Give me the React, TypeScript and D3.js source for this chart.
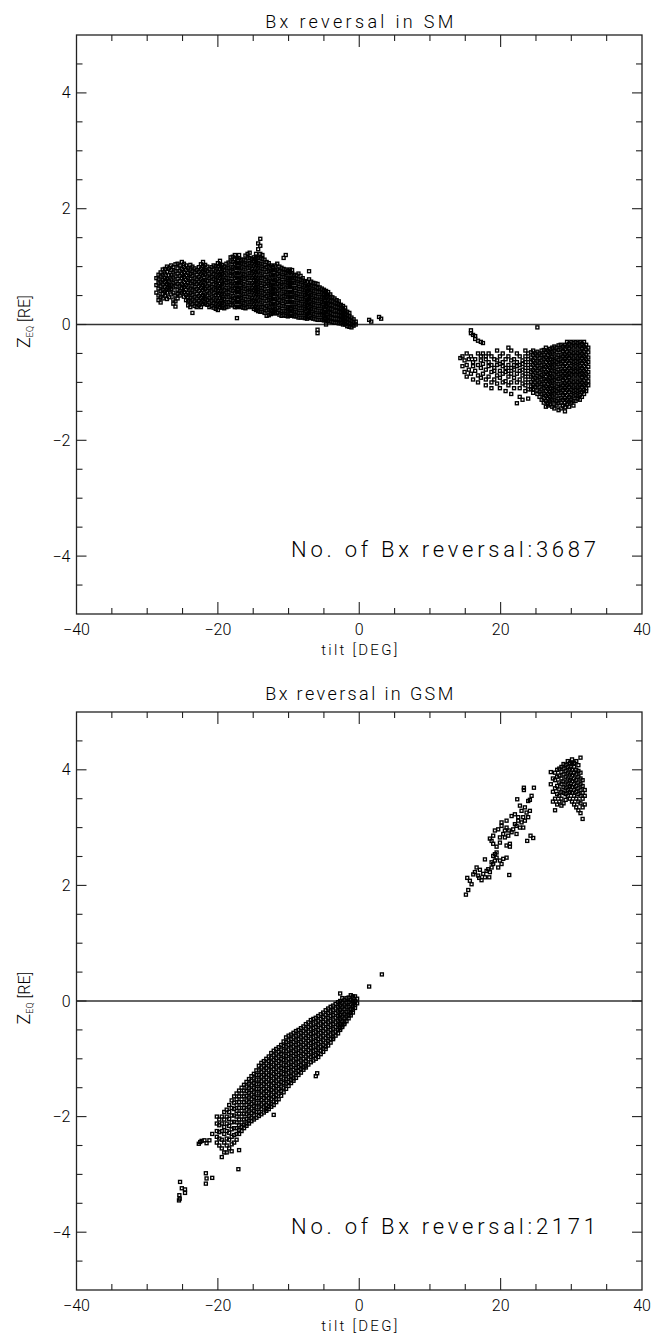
import React from 'react';
import * as d3 from 'd3';

// ---------- axes / labels ----------
const xTickValues = [-40, -20, 0, 20, 40];
const xTickLabels = ['\u221240', '\u221220', '0', '20', '40'];
const yTickValues = [-4, -2, 0, 2, 4];
const yTickLabels = ['\u22124', '\u22122', '0', '2', '4'];
const xDomain: [number, number] = [-40, 40];
const yDomain: [number, number] = [-5, 5];

// ---------- SM panel data: [tilt, z values at that tilt] ----------
const smCols: [number, number[]][] = [
  [-28.7, [0.55, 0.68, 0.8]],
  [-28.4, [0.42, 0.5, 0.62, 0.71, 0.78, 0.86]],
  [-28.1, [0.38, 0.47, 0.58, 0.66, 0.74, 0.83, 0.9]],
  [-27.8, [0.45, 0.53, 0.6, 0.69, 0.77, 0.86, 0.95]],
  [-27.5, [0.5, 0.57, 0.65, 0.73, 0.8, 0.88, 0.96]],
  [-27.2, [0.44, 0.55, 0.62, 0.7, 0.79, 0.91, 1.0]],
  [-26.9, [0.47, 0.6, 0.68, 0.76, 0.85, 0.97]],
  [-26.6, [0.52, 0.61, 0.69, 0.78, 0.86, 0.94, 1.02]],
  [-26.3, [0.36, 0.43, 0.55, 0.64, 0.72, 0.81, 0.9, 0.99]],
  [-26.0, [0.31, 0.4, 0.5, 0.66, 0.74, 0.83, 0.92, 1.04]],
  [-25.7, [0.45, 0.53, 0.6, 0.7, 0.79, 0.88, 0.97, 1.05]],
  [-25.4, [0.5, 0.58, 0.67, 0.75, 0.84, 0.93, 1.02]],
  [-25.1, [0.55, 0.63, 0.7, 0.8, 0.88, 0.96, 1.08]],
  [-24.8, [0.48, 0.56, 0.65, 0.73, 0.82, 0.9, 0.99, 1.05]],
  [-24.5, [0.42, 0.51, 0.6, 0.68, 0.77, 0.85, 0.94, 1.02]],
  [-24.2, [0.33, 0.4, 0.47, 0.55, 0.64, 0.72, 0.8, 0.89, 0.97]],
  [-23.9, [0.3, 0.38, 0.46, 0.54, 0.62, 0.71, 0.79, 0.87, 0.95, 1.03]],
  [-23.6, [0.2, 0.35, 0.43, 0.51, 0.59, 0.67, 0.75, 0.84, 0.92, 1.0]],
  [-23.3, [0.32, 0.4, 0.48, 0.57, 0.65, 0.73, 0.81, 0.9, 0.97]],
  [-23.0, [0.3, 0.37, 0.45, 0.53, 0.61, 0.7, 0.78, 0.86, 0.94]],
  [-22.7, [0.33, 0.41, 0.49, 0.58, 0.66, 0.74, 0.82, 0.91, 0.99]],
  [-22.4, [0.3, 0.38, 0.46, 0.54, 0.63, 0.71, 0.79, 0.88, 0.96, 1.04]],
  [-22.1, [0.35, 0.43, 0.51, 0.6, 0.68, 0.76, 0.85, 0.93, 1.01, 1.08]],
  [-21.8, [0.36, 0.44, 0.52, 0.61, 0.69, 0.77, 0.86, 0.94, 1.03]],
  [-21.5, [0.34, 0.42, 0.5, 0.58, 0.66, 0.75, 0.83, 0.92, 1.0]],
  [-21.2, [0.3, 0.38, 0.46, 0.55, 0.63, 0.71, 0.8, 0.88, 0.96]],
  [-20.9, [0.32, 0.4, 0.48, 0.57, 0.65, 0.74, 0.82, 0.9, 0.99]],
  [-20.6, [0.29, 0.37, 0.45, 0.54, 0.62, 0.7, 0.79, 0.87, 0.95, 1.02]],
  [-20.3, [0.27, 0.35, 0.43, 0.51, 0.6, 0.68, 0.77, 0.85, 0.93, 1.01]],
  [-20.0, [0.25, 0.33, 0.41, 0.5, 0.58, 0.66, 0.75, 0.83, 0.91, 1.0, 1.06]],
  [-19.7, [0.3, 0.38, 0.46, 0.55, 0.63, 0.71, 0.8, 0.88, 0.96, 1.04, 1.1]],
  [-19.4, [0.29, 0.37, 0.45, 0.53, 0.62, 0.7, 0.78, 0.87, 0.95, 1.03]],
  [-19.1, [0.28, 0.36, 0.44, 0.52, 0.6, 0.69, 0.77, 0.85, 0.94, 1.0]],
  [-18.8, [0.3, 0.38, 0.47, 0.55, 0.63, 0.72, 0.8, 0.88, 0.97, 1.05]],
  [-18.5, [0.31, 0.39, 0.48, 0.56, 0.64, 0.73, 0.81, 0.9, 0.98, 1.07]],
  [-18.2, [0.34, 0.42, 0.5, 0.59, 0.67, 0.75, 0.84, 0.92, 1.0, 1.09, 1.16]],
  [-17.9, [0.33, 0.41, 0.49, 0.58, 0.66, 0.74, 0.83, 0.91, 0.99, 1.08, 1.17]],
  [-17.6, [0.3, 0.38, 0.46, 0.55, 0.63, 0.71, 0.8, 0.88, 0.97, 1.05, 1.13, 1.2]],
  [-17.3, [0.11, 0.3, 0.39, 0.47, 0.56, 0.64, 0.72, 0.81, 0.89, 0.98, 1.06, 1.15]],
  [-17.0, [0.31, 0.39, 0.48, 0.56, 0.64, 0.73, 0.81, 0.9, 0.98, 1.06, 1.14, 1.2]],
  [-16.7, [0.3, 0.38, 0.46, 0.55, 0.63, 0.72, 0.8, 0.88, 0.97, 1.05, 1.12]],
  [-16.4, [0.29, 0.37, 0.45, 0.53, 0.62, 0.7, 0.79, 0.87, 0.95, 1.04, 1.12]],
  [-16.1, [0.28, 0.36, 0.44, 0.53, 0.61, 0.69, 0.78, 0.86, 0.95, 1.03, 1.11, 1.19]],
  [-15.8, [0.3, 0.38, 0.47, 0.55, 0.63, 0.72, 0.8, 0.88, 0.97, 1.05, 1.14, 1.22]],
  [-15.5, [0.31, 0.39, 0.47, 0.56, 0.64, 0.72, 0.81, 0.89, 0.98, 1.06, 1.15, 1.24]],
  [-15.2, [0.3, 0.38, 0.46, 0.55, 0.63, 0.71, 0.8, 0.88, 0.96, 1.05, 1.13]],
  [-14.9, [0.27, 0.35, 0.43, 0.52, 0.6, 0.68, 0.77, 0.85, 0.93, 1.02, 1.1, 1.16]],
  [-14.6, [0.25, 0.33, 0.41, 0.5, 0.58, 0.66, 0.75, 0.83, 0.91, 1.0, 1.08, 1.17, 1.22]],
  [-14.3, [0.23, 0.31, 0.4, 0.48, 0.56, 0.65, 0.73, 0.81, 0.9, 0.98, 1.06, 1.15, 1.3, 1.4]],
  [-14.0, [0.22, 0.3, 0.38, 0.47, 0.55, 0.63, 0.72, 0.8, 0.88, 0.97, 1.05, 1.14, 1.22, 1.36, 1.48]],
  [-13.7, [0.22, 0.3, 0.38, 0.46, 0.55, 0.63, 0.71, 0.8, 0.88, 0.96, 1.05, 1.13, 1.2]],
  [-13.4, [0.2, 0.28, 0.36, 0.45, 0.53, 0.61, 0.7, 0.78, 0.86, 0.95, 1.03, 1.12]],
  [-13.1, [0.15, 0.24, 0.32, 0.41, 0.49, 0.57, 0.66, 0.74, 0.82, 0.91, 0.99, 1.08]],
  [-12.8, [0.16, 0.25, 0.33, 0.42, 0.5, 0.58, 0.67, 0.75, 0.83, 0.92, 1.0, 1.06]],
  [-12.5, [0.18, 0.26, 0.35, 0.43, 0.51, 0.6, 0.68, 0.76, 0.85, 0.93, 1.02]],
  [-12.2, [0.2, 0.28, 0.36, 0.44, 0.53, 0.61, 0.69, 0.78, 0.86, 0.94, 1.0]],
  [-11.9, [0.19, 0.27, 0.35, 0.44, 0.52, 0.6, 0.69, 0.77, 0.85, 0.94, 1.02]],
  [-11.6, [0.2, 0.28, 0.37, 0.45, 0.53, 0.62, 0.7, 0.78, 0.87, 0.95, 1.05]],
  [-11.3, [0.17, 0.25, 0.34, 0.42, 0.5, 0.59, 0.67, 0.75, 0.84, 0.92, 1.0]],
  [-11.0, [0.15, 0.23, 0.32, 0.4, 0.48, 0.57, 0.65, 0.73, 0.82, 0.9, 0.98]],
  [-10.7, [0.16, 0.24, 0.32, 0.41, 0.49, 0.57, 0.66, 0.74, 0.82, 0.9, 0.96, 1.15]],
  [-10.4, [0.15, 0.23, 0.31, 0.39, 0.48, 0.56, 0.64, 0.73, 0.81, 0.89, 0.95, 1.2]],
  [-10.1, [0.14, 0.22, 0.3, 0.39, 0.47, 0.55, 0.64, 0.72, 0.8, 0.88, 0.93]],
  [-9.8, [0.15, 0.23, 0.31, 0.4, 0.48, 0.56, 0.65, 0.73, 0.81, 0.9, 0.95]],
  [-9.5, [0.15, 0.23, 0.31, 0.39, 0.48, 0.56, 0.64, 0.72, 0.8, 0.88, 0.94]],
  [-9.2, [0.14, 0.22, 0.3, 0.38, 0.47, 0.55, 0.63, 0.72, 0.8, 0.86]],
  [-8.9, [0.14, 0.22, 0.3, 0.38, 0.46, 0.54, 0.63, 0.71, 0.79, 0.85]],
  [-8.6, [0.12, 0.2, 0.28, 0.37, 0.45, 0.53, 0.61, 0.7, 0.78, 0.88]],
  [-8.3, [0.12, 0.2, 0.28, 0.36, 0.44, 0.52, 0.61, 0.69, 0.77, 0.84]],
  [-8.0, [0.12, 0.2, 0.28, 0.36, 0.44, 0.52, 0.6, 0.68, 0.76, 0.8]],
  [-7.7, [0.11, 0.19, 0.27, 0.35, 0.43, 0.51, 0.59, 0.67, 0.75]],
  [-7.4, [0.1, 0.18, 0.26, 0.34, 0.42, 0.5, 0.58, 0.66, 0.74]],
  [-7.1, [0.12, 0.2, 0.28, 0.36, 0.44, 0.52, 0.6, 0.68, 0.78, 0.92]],
  [-6.8, [0.11, 0.19, 0.27, 0.35, 0.43, 0.51, 0.59, 0.67, 0.74]],
  [-6.5, [0.1, 0.18, 0.26, 0.34, 0.42, 0.5, 0.58, 0.66, 0.72]],
  [-6.2, [0.09, 0.17, 0.25, 0.33, 0.41, 0.49, 0.57, 0.65, 0.71]],
  [-5.9, [-0.15, -0.09, 0.08, 0.16, 0.24, 0.32, 0.4, 0.48, 0.56, 0.63, 0.7]],
  [-5.6, [0.08, 0.16, 0.24, 0.32, 0.4, 0.48, 0.56, 0.64]],
  [-5.3, [0.08, 0.16, 0.23, 0.31, 0.39, 0.47, 0.55, 0.62]],
  [-5.0, [0.07, 0.15, 0.22, 0.3, 0.38, 0.46, 0.53, 0.6]],
  [-4.7, [0.0, 0.07, 0.14, 0.22, 0.3, 0.37, 0.45, 0.52, 0.58]],
  [-4.4, [0.06, 0.13, 0.21, 0.28, 0.36, 0.43, 0.5, 0.56]],
  [-4.1, [0.05, 0.12, 0.2, 0.27, 0.34, 0.41, 0.48, 0.52]],
  [-3.8, [0.04, 0.11, 0.18, 0.26, 0.33, 0.4, 0.47]],
  [-3.5, [0.03, 0.1, 0.17, 0.24, 0.31, 0.38, 0.45]],
  [-3.2, [0.03, 0.1, 0.17, 0.24, 0.3, 0.37, 0.42]],
  [-2.9, [0.02, 0.09, 0.16, 0.22, 0.29, 0.36, 0.4]],
  [-2.6, [0.02, 0.08, 0.15, 0.21, 0.28, 0.34]],
  [-2.3, [0.0, 0.07, 0.13, 0.2, 0.26, 0.32]],
  [-2.0, [0.0, 0.06, 0.12, 0.18, 0.24, 0.29]],
  [-1.7, [-0.03, 0.04, 0.1, 0.16, 0.22]],
  [-1.4, [-0.04, 0.02, 0.08, 0.14, 0.2]],
  [-1.1, [-0.05, 0.0, 0.06, 0.12]],
  [-0.8, [-0.02, 0.04, 0.09]],
  [-0.5, [0.0, 0.05]],
  [1.4, [0.08]],
  [1.7, [0.05]],
  [2.8, [0.13]],
  [3.1, [0.1]],
  // positive-tilt group
  [14.3, [-0.58]],
  [14.6, [-0.55, -0.72]],
  [14.9, [-0.62, -0.82]],
  [15.2, [-0.5, -0.7, -0.9]],
  [15.5, [-0.6, -0.78]],
  [15.8, [-0.1, -0.15, -0.55, -0.85]],
  [16.1, [-0.18, -0.65, -0.72, -0.95]],
  [16.4, [-0.2, -0.25, -0.6, -0.8]],
  [16.8, [-0.28, -0.5, -0.7, -0.88, -1.0]],
  [17.2, [-0.3, -0.55, -0.62, -0.75, -0.92]],
  [17.5, [-0.32, -0.5, -0.68, -0.85]],
  [17.9, [-0.55, -0.6, -0.78, -0.95, -1.05]],
  [18.3, [-0.5, -0.65, -0.72, -0.9]],
  [18.7, [-0.55, -0.7, -0.82, -1.0, -1.1]],
  [19.1, [-0.6, -0.75, -0.8, -0.95]],
  [19.5, [-0.45, -0.62, -0.7, -0.88, -1.02]],
  [19.9, [-0.55, -0.68, -0.8, -0.92, -1.1]],
  [20.3, [-0.5, -0.65, -0.72, -0.85, -1.0]],
  [20.7, [-0.6, -0.75, -0.82, -0.98, -1.15]],
  [21.1, [-0.4, -0.55, -0.7, -0.8, -0.9, -1.05]],
  [21.5, [-0.45, -0.62, -0.75, -0.85, -1.0, -1.2]],
  [21.9, [-0.6, -0.7, -0.78, -0.92, -1.1]],
  [22.3, [-0.5, -0.65, -0.72, -0.85, -1.0, -1.36]],
  [22.7, [-0.55, -0.7, -0.8, -0.95, -1.1, -1.25]],
  [23.1, [-0.62, -0.68, -0.78, -0.88, -1.02, -1.3]],
  [23.5, [-0.45, -0.55, -0.65, -0.75, -0.85, -0.95, -1.05, -1.15]],
  [23.9, [-0.5, -0.6, -0.7, -0.8, -0.9, -1.0, -1.12, -1.28]],
  [24.3, [-0.48, -0.57, -0.65, -0.74, -0.82, -0.9, -0.99, -1.07, -1.12]],
  [24.6, [-0.45, -0.53, -0.62, -0.7, -0.79, -0.87, -0.95, -1.04, -1.12, -1.18]],
  [24.9, [-0.5, -0.58, -0.67, -0.75, -0.83, -0.92, -1.0, -1.08]],
  [25.2, [-0.05, -0.47, -0.55, -0.64, -0.72, -0.8, -0.89, -0.97, -1.05, -1.14, -1.2]],
  [25.5, [-0.5, -0.58, -0.66, -0.75, -0.83, -0.91, -1.0, -1.08, -1.16, -1.25]],
  [25.8, [-0.45, -0.53, -0.62, -0.7, -0.78, -0.87, -0.95, -1.03, -1.12, -1.2, -1.3]],
  [26.1, [-0.44, -0.52, -0.6, -0.69, -0.77, -0.85, -0.94, -1.02, -1.1, -1.19, -1.27, -1.35]],
  [26.4, [-0.4, -0.48, -0.57, -0.65, -0.73, -0.82, -0.9, -0.98, -1.07, -1.15, -1.23, -1.32, -1.42]],
  [26.7, [-0.45, -0.53, -0.61, -0.7, -0.78, -0.86, -0.95, -1.03, -1.11, -1.2, -1.28, -1.36, -1.4]],
  [27.0, [-0.42, -0.5, -0.59, -0.67, -0.75, -0.84, -0.92, -1.0, -1.09, -1.17, -1.25, -1.33, -1.38]],
  [27.3, [-0.4, -0.48, -0.56, -0.65, -0.73, -0.81, -0.9, -0.98, -1.06, -1.15, -1.23, -1.31, -1.42]],
  [27.6, [-0.38, -0.46, -0.55, -0.63, -0.71, -0.8, -0.88, -0.96, -1.05, -1.13, -1.21, -1.3, -1.38, -1.45]],
  [27.9, [-0.4, -0.48, -0.57, -0.65, -0.73, -0.82, -0.9, -0.98, -1.07, -1.15, -1.23, -1.32, -1.4]],
  [28.2, [-0.36, -0.44, -0.53, -0.61, -0.69, -0.78, -0.86, -0.94, -1.03, -1.11, -1.19, -1.28, -1.36, -1.48]],
  [28.5, [-0.35, -0.43, -0.52, -0.6, -0.68, -0.77, -0.85, -0.93, -1.02, -1.1, -1.18, -1.27, -1.35, -1.45]],
  [28.8, [-0.38, -0.46, -0.55, -0.63, -0.71, -0.8, -0.88, -0.96, -1.05, -1.13, -1.21, -1.3, -1.4]],
  [29.1, [-0.35, -0.43, -0.52, -0.6, -0.68, -0.77, -0.85, -0.93, -1.02, -1.1, -1.18, -1.27, -1.35, -1.43, -1.5]],
  [29.4, [-0.3, -0.38, -0.47, -0.55, -0.63, -0.72, -0.8, -0.88, -0.97, -1.05, -1.13, -1.22, -1.3, -1.38]],
  [29.7, [-0.33, -0.41, -0.5, -0.58, -0.66, -0.75, -0.83, -0.91, -1.0, -1.08, -1.16, -1.25, -1.33, -1.42]],
  [30.0, [-0.3, -0.38, -0.47, -0.55, -0.63, -0.72, -0.8, -0.88, -0.97, -1.05, -1.13, -1.22, -1.3, -1.35]],
  [30.3, [-0.32, -0.4, -0.49, -0.57, -0.65, -0.74, -0.82, -0.9, -0.99, -1.07, -1.15, -1.24, -1.32, -1.4]],
  [30.6, [-0.3, -0.38, -0.47, -0.55, -0.63, -0.72, -0.8, -0.88, -0.97, -1.05, -1.13, -1.22, -1.32]],
  [30.9, [-0.32, -0.4, -0.49, -0.57, -0.65, -0.74, -0.82, -0.9, -0.99, -1.07, -1.15, -1.24, -1.28]],
  [31.2, [-0.3, -0.38, -0.47, -0.55, -0.63, -0.72, -0.8, -0.88, -0.97, -1.05, -1.13, -1.22, -1.3]],
  [31.5, [-0.33, -0.41, -0.5, -0.58, -0.66, -0.75, -0.83, -0.91, -1.0, -1.08, -1.16, -1.25]],
  [31.8, [-0.3, -0.38, -0.47, -0.55, -0.63, -0.72, -0.8, -0.88, -0.97, -1.05, -1.13, -1.2]],
  [32.1, [-0.35, -0.43, -0.52, -0.6, -0.68, -0.77, -0.85, -0.93, -1.02, -1.1, -1.15]],
  [32.4, [-0.4, -0.48, -0.57, -0.65, -0.73, -0.82, -0.9, -0.98, -1.05]],
];

// ---------- GSM panel data: [tilt, z values at that tilt] ----------
const gsmCols: [number, number[]][] = [
  [-25.5, [-3.45]],
  [-25.45, [-3.36]],
  [-25.4, [-3.42]],
  [-25.35, [-3.13]],
  [-25.1, [-3.24]],
  [-24.65, [-3.26, -3.32]],
  [-22.7, [-2.47]],
  [-22.5, [-2.44]],
  [-22.3, [-2.42]],
  [-21.9, [-2.41]],
  [-21.7, [-2.98, -3.16]],
  [-21.6, [-2.46, -3.07]],
  [-21.2, [-2.41]],
  [-20.8, [-2.3, -3.06]],
  [-20.15, [-2.0, -2.12, -2.25, -2.35, -2.45]],
  [-19.8, [-2.05, -2.15, -2.27, -2.38, -2.5]],
  [-19.45, [-2.0, -2.12, -2.25, -2.4, -2.55, -2.7]],
  [-19.1, [-1.92, -2.05, -2.18, -2.3, -2.45, -2.62]],
  [-18.75, [-1.88, -2.0, -2.12, -2.25, -2.38, -2.5, -2.62]],
  [-18.4, [-1.8, -1.92, -2.04, -2.16, -2.28, -2.4, -2.55]],
  [-18.05, [-1.72, -1.85, -1.98, -2.1, -2.22, -2.35, -2.48, -2.6]],
  [-17.7, [-1.65, -1.76, -1.87, -1.98, -2.09, -2.2, -2.32, -2.45]],
  [-17.35, [-1.6, -1.7, -1.8, -1.9, -2.0, -2.1, -2.2, -2.3, -2.4]],
  [-17.1, [-2.91]],
  [-17.0, [-1.55, -1.65, -1.75, -1.85, -1.95, -2.05, -2.15, -2.23, -2.3, -2.58]],
  [-16.65, [-1.5, -1.6, -1.7, -1.8, -1.9, -2.0, -2.1, -2.18, -2.25]],
  [-16.3, [-1.45, -1.55, -1.65, -1.75, -1.85, -1.95, -2.05, -2.14, -2.2]],
  [-15.95, [-1.4, -1.48, -1.56, -1.64, -1.72, -1.8, -1.88, -1.96, -2.04, -2.12, -2.16]],
  [-15.6, [-1.35, -1.43, -1.51, -1.59, -1.67, -1.75, -1.83, -1.91, -1.99, -2.07, -2.12]],
  [-15.25, [-1.3, -1.38, -1.46, -1.54, -1.62, -1.7, -1.78, -1.86, -1.94, -2.02, -2.08]],
  [-14.9, [-1.26, -1.34, -1.42, -1.5, -1.58, -1.66, -1.74, -1.82, -1.9, -1.98, -2.05]],
  [-14.55, [-1.2, -1.28, -1.36, -1.44, -1.52, -1.6, -1.68, -1.76, -1.84, -1.92, -2.02]],
  [-14.2, [-1.12, -1.2, -1.28, -1.36, -1.44, -1.52, -1.6, -1.68, -1.76, -1.84, -1.92, -1.99]],
  [-13.85, [-1.07, -1.15, -1.23, -1.31, -1.39, -1.47, -1.55, -1.63, -1.71, -1.79, -1.87, -1.96]],
  [-13.5, [-1.04, -1.12, -1.2, -1.28, -1.36, -1.44, -1.52, -1.6, -1.68, -1.76, -1.84, -1.93]],
  [-13.15, [-1.0, -1.08, -1.16, -1.24, -1.32, -1.4, -1.48, -1.56, -1.64, -1.72, -1.8, -1.87, -1.9]],
  [-12.8, [-0.96, -1.04, -1.12, -1.2, -1.28, -1.36, -1.44, -1.52, -1.6, -1.68, -1.76, -1.83, -1.87]],
  [-12.45, [-0.9, -0.98, -1.06, -1.14, -1.22, -1.3, -1.38, -1.46, -1.54, -1.62, -1.7, -1.78, -1.83]],
  [-12.1, [-0.86, -0.94, -1.02, -1.1, -1.18, -1.26, -1.34, -1.42, -1.5, -1.58, -1.66, -1.74, -1.8, -1.97]],
  [-11.75, [-0.83, -0.91, -0.99, -1.07, -1.15, -1.23, -1.31, -1.39, -1.47, -1.55, -1.63, -1.7, -1.75]],
  [-11.4, [-0.8, -0.88, -0.96, -1.04, -1.12, -1.2, -1.28, -1.36, -1.44, -1.52, -1.6, -1.7]],
  [-11.05, [-0.76, -0.84, -0.92, -1.0, -1.08, -1.16, -1.24, -1.32, -1.4, -1.48, -1.56, -1.64]],
  [-10.7, [-0.7, -0.78, -0.86, -0.94, -1.02, -1.1, -1.18, -1.26, -1.34, -1.42, -1.5, -1.58]],
  [-10.35, [-0.63, -0.71, -0.79, -0.87, -0.95, -1.03, -1.11, -1.19, -1.27, -1.35, -1.43, -1.52]],
  [-10.0, [-0.6, -0.68, -0.76, -0.84, -0.92, -1.0, -1.08, -1.16, -1.24, -1.32, -1.4, -1.47]],
  [-9.65, [-0.58, -0.66, -0.74, -0.82, -0.9, -0.98, -1.06, -1.14, -1.22, -1.3, -1.37, -1.42]],
  [-9.3, [-0.55, -0.63, -0.71, -0.79, -0.87, -0.95, -1.03, -1.11, -1.19, -1.27, -1.34, -1.38]],
  [-8.95, [-0.52, -0.6, -0.68, -0.76, -0.84, -0.92, -1.0, -1.08, -1.16, -1.24, -1.33]],
  [-8.6, [-0.5, -0.58, -0.66, -0.74, -0.82, -0.9, -0.98, -1.06, -1.14, -1.21, -1.28]],
  [-8.25, [-0.47, -0.55, -0.63, -0.71, -0.79, -0.87, -0.95, -1.03, -1.11, -1.18, -1.24]],
  [-7.9, [-0.44, -0.52, -0.6, -0.68, -0.76, -0.84, -0.92, -1.0, -1.08, -1.15, -1.19]],
  [-7.55, [-0.4, -0.48, -0.56, -0.64, -0.72, -0.8, -0.88, -0.96, -1.04, -1.12, -1.15]],
  [-7.2, [-0.37, -0.45, -0.53, -0.61, -0.69, -0.77, -0.85, -0.93, -1.01, -1.1]],
  [-6.85, [-0.33, -0.41, -0.49, -0.57, -0.65, -0.73, -0.81, -0.89, -0.97, -1.06]],
  [-6.5, [-0.31, -0.39, -0.47, -0.55, -0.63, -0.71, -0.79, -0.87, -0.95, -1.03]],
  [-6.15, [-0.29, -0.37, -0.45, -0.53, -0.61, -0.69, -0.77, -0.85, -0.93, -1.0, -1.3]],
  [-5.95, [-1.25]],
  [-5.8, [-0.26, -0.34, -0.42, -0.5, -0.58, -0.66, -0.74, -0.82, -0.9, -0.97]],
  [-5.45, [-0.23, -0.31, -0.39, -0.47, -0.55, -0.63, -0.71, -0.79, -0.86, -0.92]],
  [-5.1, [-0.2, -0.28, -0.36, -0.44, -0.52, -0.6, -0.68, -0.76, -0.83, -0.88]],
  [-4.75, [-0.16, -0.24, -0.32, -0.4, -0.48, -0.56, -0.64, -0.72, -0.79, -0.83]],
  [-4.4, [-0.13, -0.21, -0.29, -0.37, -0.45, -0.53, -0.61, -0.69, -0.77]],
  [-4.05, [-0.1, -0.18, -0.26, -0.34, -0.42, -0.5, -0.58, -0.66, -0.72]],
  [-3.7, [-0.08, -0.16, -0.24, -0.32, -0.4, -0.48, -0.56, -0.63, -0.66]],
  [-3.35, [-0.05, -0.13, -0.21, -0.29, -0.37, -0.45, -0.53, -0.6]],
  [-3.0, [-0.02, -0.1, -0.18, -0.26, -0.34, -0.42, -0.5, -0.56]],
  [-2.7, [0.13, 0.0, -0.08, -0.16, -0.24, -0.32, -0.4, -0.47, -0.5]],
  [-2.4, [0.05, -0.03, -0.11, -0.19, -0.27, -0.35, -0.42, -0.45]],
  [-2.1, [0.02, -0.06, -0.14, -0.22, -0.3, -0.37, -0.4]],
  [-1.8, [0.05, -0.03, -0.11, -0.19, -0.27, -0.35]],
  [-1.5, [0.06, -0.02, -0.1, -0.18, -0.25, -0.3]],
  [-1.2, [0.1, 0.02, -0.06, -0.14, -0.21, -0.25]],
  [-0.9, [0.08, 0.0, -0.08, -0.15, -0.2]],
  [-0.6, [0.08, 0.0, -0.07, -0.12]],
  [-0.3, [0.04, -0.04]],
  [1.4, [0.25]],
  [3.2, [0.46]],
  // positive-tilt streak
  [15.09, [1.84]], [15.28, [2.13]], [15.42, [1.92]], [15.65, [2.08]], [15.89, [2.02]],
  [16.13, [2.19]], [16.36, [2.23]], [16.6, [2.31]], [16.83, [2.17]], [16.97, [2.13]],
  [17.07, [2.27]], [17.3, [2.09]], [17.54, [2.2]], [17.78, [2.14, 2.45]], [18.01, [2.25]],
  [18.25, [2.28]], [18.39, [2.14]], [18.48, [2.23, 2.81]], [18.72, [2.31, 2.4, 2.77]],
  [18.95, [2.37, 2.51, 2.72, 2.86]], [19.19, [2.43, 2.54, 2.95]], [19.43, [2.48, 2.57, 2.67]],
  [19.66, [2.31, 2.97]], [19.9, [2.43, 2.74, 2.83]], [20.13, [2.37, 3.03, 3.09]],
  [20.37, [2.46, 2.89]], [20.6, [2.83, 2.95]], [20.84, [2.48, 2.69, 3.0, 3.12]],
  [21.08, [2.86]], [21.22, [2.18, 2.95]], [21.31, [2.67, 2.72]], [21.55, [2.92, 3.2]],
  [21.78, [2.97]], [22.02, [3.06, 3.23]], [22.25, [2.89, 3.03]], [22.35, [3.49]],
  [22.49, [3.12, 3.18]], [22.73, [3.0, 3.38]], [22.96, [3.09, 3.29]], [23.2, [3.0, 3.18]],
  [23.29, [3.65, 3.69]], [23.43, [3.12, 3.35]], [23.67, [3.26]], [23.76, [2.77]],
  [23.9, [3.18, 3.46]], [24.14, [3.29, 3.48]], [24.23, [2.86]], [24.38, [3.55]],
  [24.61, [2.82]], [24.71, [3.69]],
  // upper-right group
  [27.1, [3.96, 3.75]],
  [27.4, [3.85, 3.62, 3.45]],
  [27.7, [3.3, 3.5, 3.68, 3.82, 3.95]],
  [28.0, [3.4, 3.58, 3.72, 3.88, 4.0]],
  [28.3, [3.45, 3.55, 3.66, 3.78, 3.9, 4.02]],
  [28.6, [3.38, 3.5, 3.62, 3.75, 3.85, 3.96, 4.05]],
  [28.9, [3.42, 3.6, 3.7, 3.8, 3.92, 4.02, 4.1]],
  [29.2, [3.48, 3.58, 3.68, 3.78, 3.88, 3.98, 4.08]],
  [29.5, [3.55, 3.65, 3.75, 3.85, 3.95, 4.05, 4.15]],
  [29.8, [3.5, 3.62, 3.72, 3.82, 3.92, 4.02, 4.12]],
  [30.1, [3.45, 3.6, 3.7, 3.8, 3.9, 4.0, 4.1, 4.18]],
  [30.4, [3.4, 3.55, 3.65, 3.75, 3.85, 3.95, 4.05, 4.12]],
  [30.7, [3.35, 3.5, 3.62, 3.72, 3.82, 3.92, 4.0, 4.15]],
  [31.0, [3.3, 3.45, 3.58, 3.68, 3.78, 3.88, 3.98, 4.08]],
  [31.3, [3.25, 3.42, 3.55, 3.65, 3.75, 3.85, 3.95, 4.21]],
  [31.6, [3.15, 3.35, 3.5, 3.6, 3.72, 3.82]],
  [31.9, [3.4, 3.55, 3.65]],
];

const titles = ['Bx reversal in SM', 'Bx reversal in GSM'];
const counts = [3687, 2171];

// ---------- layout ----------
const W = 654;
const H = 1341;
const LEFT = 76.5;
const RIGHT = 642;
const panelTops = [35, 712];
const panelHeights = [579, 578];
const titleOffsets = [7, 12];
const FONT = 'Roboto, "DejaVu Sans", sans-serif';

function Panel({ idx, cols }: { idx: number; cols: [number, number[]][] }) {
  const top = panelTops[idx];
  const bottom = top + panelHeights[idx];
  const x = d3.scaleLinear().domain(xDomain).range([LEFT, RIGHT]);
  const y = d3.scaleLinear().domain(yDomain).range([bottom, top]);
  const pts = cols.flatMap(([t, zs]) => zs.map((z) => [t, z] as [number, number]));
  const xMinor = d3.range(-35, 40, 5);
  const yMinor = d3.range(-4.5, 5, 0.5);
  const axisColor = '#222';
  const s = 3.0;
  return (
    <g>
      <line x1={LEFT} x2={RIGHT} y1={y(0)} y2={y(0)} stroke="#333" strokeWidth={1.3} />
      <g>
        {pts.map(([t, z], i) => (
          <rect key={i} x={x(t) - s / 2} y={y(z) - s / 2} width={s} height={s}
            fill="none" stroke="#000" strokeWidth={1.35} />
        ))}
      </g>
      <rect x={LEFT} y={top} width={RIGHT - LEFT} height={bottom - top} fill="none"
        stroke={axisColor} strokeWidth={1.3} />
      {xMinor.map((v) => {
        const len = v % 20 === 0 ? 12 : 6;
        return (
          <g key={'xt' + v}>
            <line x1={x(v)} x2={x(v)} y1={bottom} y2={bottom - len} stroke={axisColor} strokeWidth={1.1} />
            <line x1={x(v)} x2={x(v)} y1={top} y2={top + len} stroke={axisColor} strokeWidth={1.1} />
          </g>
        );
      })}
      {yMinor.map((v) => {
        const len = Math.abs(v % 2) < 1e-9 ? 10 : 6;
        return (
          <g key={'yt' + v}>
            <line x1={LEFT} x2={LEFT + len} y1={y(v)} y2={y(v)} stroke={axisColor} strokeWidth={1.1} />
            <line x1={RIGHT} x2={RIGHT - len} y1={y(v)} y2={y(v)} stroke={axisColor} strokeWidth={1.1} />
          </g>
        );
      })}
      {xTickValues.map((v, i) => (
        <text key={'xl' + v} x={x(v)} y={bottom + 21} textAnchor="middle" fontSize={16}
          fontFamily={FONT} fontWeight={300}>{xTickLabels[i]}</text>
      ))}
      {yTickValues.map((v, i) => (
        <text key={'yl' + v} x={LEFT - 6} y={y(v) + 5.5} textAnchor="end" fontSize={16}
          fontFamily={FONT} fontWeight={300}>{yTickLabels[i]}</text>
      ))}
      <text x={(LEFT + RIGHT) / 2} y={top - titleOffsets[idx]} textAnchor="middle" fontSize={18}
        fontFamily={FONT} fontWeight={300} textLength={188} lengthAdjust="spacing">{titles[idx]}</text>
      <text x={(LEFT + RIGHT) / 2} y={bottom + 41} textAnchor="middle" fontSize={15}
        fontFamily={FONT} fontWeight={300} textLength={76} lengthAdjust="spacing">tilt [DEG]</text>
      <text transform={`translate(30,${y(0) - 3}) rotate(-90)`} textAnchor="middle"
        fontFamily={FONT} fontWeight={300} fontSize={16}>
        <tspan fontSize={18}>Z</tspan>
        <tspan fontSize={9} dy={3}>EQ</tspan>
        <tspan dy={-3}> [RE]</tspan>
      </text>
      <text x={291} y={top + 522} fontSize={22} fontFamily={FONT} fontWeight={300}
        textLength={305} lengthAdjust="spacing">{`No. of Bx reversal:${counts[idx]}`}</text>
    </g>
  );
}

export default function App() {
  return (
    <svg width={W} height={H} viewBox={`0 0 ${W} ${H}`}
      style={{ position: 'absolute', left: 0, top: 0, display: 'block', background: '#fff' }}>
      <rect x={0} y={0} width={W} height={H} fill="#fff" />
      <Panel idx={0} cols={smCols} />
      <Panel idx={1} cols={gsmCols} />
    </svg>
  );
}
